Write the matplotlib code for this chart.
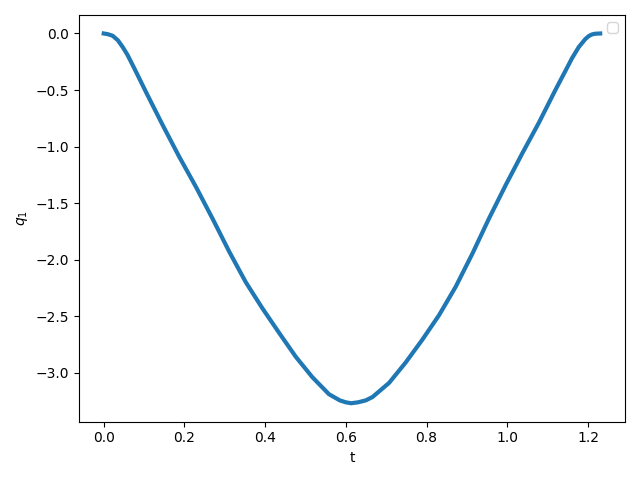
import matplotlib
matplotlib.use('Agg')
import matplotlib.pyplot as plt

# joint trajectory
t = [0.0, 0.010, 0.022, 0.035, 0.047, 0.059, 0.076, 0.105, 0.146, 0.187,
     0.229, 0.270, 0.311, 0.352, 0.393, 0.435, 0.476, 0.517, 0.558, 0.585,
     0.600, 0.613, 0.630, 0.649, 0.666, 0.707, 0.748, 0.789, 0.831, 0.872,
     0.913, 0.954, 0.996, 1.037, 1.078, 1.119, 1.144, 1.160, 1.177, 1.193,
     1.202, 1.210, 1.218, 1.23]
q1 = [0.0, -0.006, -0.02, -0.06, -0.12, -0.19, -0.31, -0.52, -0.81, -1.09,
      -1.36, -1.64, -1.93, -2.20, -2.43, -2.65, -2.86, -3.04, -3.19, -3.245,
      -3.262, -3.27, -3.262, -3.245, -3.215, -3.09, -2.91, -2.71, -2.49, -2.24,
      -1.95, -1.64, -1.34, -1.06, -0.79, -0.50, -0.33, -0.22, -0.12, -0.05,
      -0.022, -0.008, -0.002, 0.0]

fig = plt.figure(figsize=(6.4, 4.8), dpi=100)
plt.plot(t, q1, linewidth=3)
plt.xlabel('t')
plt.ylabel('$q_1$')
plt.legend(loc='upper right')
plt.tight_layout()
plt.savefig('out.png')
